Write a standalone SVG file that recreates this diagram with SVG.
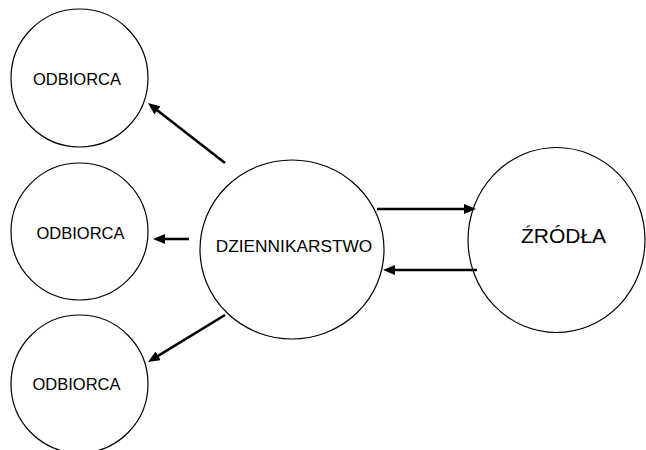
<svg xmlns="http://www.w3.org/2000/svg" width="646" height="450" viewBox="0 0 646 450">
  <style>
    .node { fill: #ffffff; stroke: #000000; stroke-width: 1.2; }
    .lbl { font-family: "Liberation Sans", Arial, sans-serif; fill: #000000; text-anchor: middle; }
    .conn { stroke: #000000; stroke-width: 2.6; fill: none; marker-end: url(#arrow); }
  </style>
  <defs>
    <marker id="arrow" markerUnits="userSpaceOnUse" markerWidth="12" markerHeight="10" refX="6" refY="5" orient="auto">
      <path d="M0,0 L12,5 L0,10 z" fill="#000000"/>
    </marker>
  </defs>
  <rect width="646" height="450" fill="#ffffff"/>
  <g id="odbiorca1">
    <ellipse class="node" cx="79.5" cy="78" rx="68.5" ry="69"/>
    <text class="lbl" x="77" y="85" font-size="16.5">ODBIORCA</text>
  </g>
  <g id="odbiorca2">
    <ellipse class="node" cx="79.5" cy="231.5" rx="68.5" ry="68.5"/>
    <text class="lbl" x="80.5" y="239" font-size="16.5">ODBIORCA</text>
  </g>
  <g id="odbiorca3">
    <ellipse class="node" cx="79.5" cy="384" rx="68.5" ry="69"/>
    <text class="lbl" x="76.5" y="390" font-size="16.5">ODBIORCA</text>
  </g>
  <g id="dziennikarstwo">
    <ellipse class="node" cx="292" cy="249.5" rx="92" ry="89.5"/>
    <text class="lbl" x="294" y="252" font-size="17.3">DZIENNIKARSTWO</text>
  </g>
  <g id="zrodla">
    <ellipse class="node" cx="556.5" cy="240" rx="88.5" ry="92.5"/>
    <text class="lbl" x="563.5" y="243" font-size="21">ŹRÓDŁA</text>
  </g>
  <g id="connectors">
    <line class="conn" x1="225" y1="163" x2="152.7" y2="106.7"/>
    <line class="conn" x1="189" y1="239" x2="159" y2="239"/>
    <line class="conn" x1="225" y1="315" x2="153.1" y2="358.9"/>
    <line class="conn" x1="377" y1="209" x2="470" y2="209"/>
    <line class="conn" x1="477" y1="270" x2="389" y2="270"/>
  </g>
</svg>
